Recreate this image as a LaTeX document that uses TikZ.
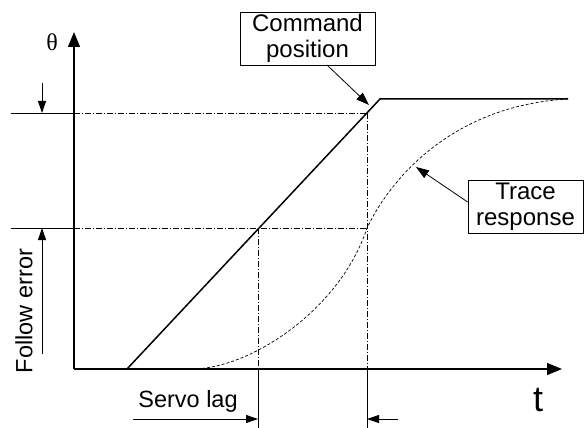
\documentclass[tikz,border=0pt]{standalone}
\usepackage{fontspec}
\setmainfont{Liberation Sans}
\newfontfamily\serifgreek{Liberation Serif}
\usetikzlibrary{arrows.meta}
\begin{document}
\begin{tikzpicture}[x=1pt,y=-1pt,
  axis/.style={line width=1.3pt,-{Triangle[length=15pt,width=12pt]}},
  ramp/.style={line width=1.5pt},
  guide/.style={line width=0.6pt,dash pattern=on 6pt off 2pt on 1pt off 2pt},
  trace/.style={line width=0.7pt,dash pattern=on 3pt off 2pt},
  thin/.style={line width=0.7pt},
  marker/.style={line width=0.9pt,-{Triangle[length=12pt,width=8pt]}},
  callout/.style={line width=0.8pt,-{Triangle[length=13pt,width=9pt]}},
  labelbox/.style={draw,line width=0.8pt,align=center,inner sep=0pt,
    font=\fontsize{24}{26}\selectfont},
  txt/.style={font=\fontsize{23.5}{26}\selectfont,inner sep=0pt}]
\useasboundingbox (0,0) rectangle (584,428);
% key points
\coordinate (O) at (74,369);
\coordinate (ytip) at (74,32);
\coordinate (xtip) at (562,369);
\coordinate (r0) at (127,369);
\coordinate (r1) at (380,99);
\coordinate (rend) at (568,99);
\coordinate (A) at (367,113);
\coordinate (B) at (258,228);
\coordinate (C) at (367,228);
\coordinate (Ab) at (367,369);
\coordinate (Bb) at (258,369);
\coordinate (Abot) at (367,428);
\coordinate (Bbot) at (258,428);
\coordinate (tickU) at (11,113);
\coordinate (tickL) at (11,228);
\coordinate (yU) at (74,113);
\coordinate (yL) at (74,228);
\coordinate (feTop) at (42,83);
\coordinate (feTopTip) at (42,113);
\coordinate (feBot) at (42,354);
\coordinate (feBotTip) at (42,228);
\coordinate (slL) at (133,419);
\coordinate (slLtip) at (258,419);
\coordinate (slR) at (398,419);
\coordinate (slRtip) at (367,419);
\coordinate (c0) at (192,369);
\coordinate (cend) at (568,99);
\coordinate (arrCmd) at (369,105);
\coordinate (arrTrace) at (416,167);
% axes
\draw[axis] (O) -- (ytip);
\draw[axis] (O) -- (xtip);
% guides
\draw[thin] (tickU) -- (yU);
\draw[thin] (tickL) -- (yL);
\draw[guide] (yU) -- (A);
\draw[guide] (yL) -- (C);
\draw[guide] (A) -- (Ab);
\draw[guide] (B) -- (Bb);
\draw[thin] (Ab) -- (Abot);
\draw[thin] (Bb) -- (Bbot);
% command ramp
\draw[ramp] (r0) -- (r1) -- (rend);
% trace response
\draw[trace] (c0) .. controls (250,369) and (340,310) .. (C)
  .. controls (395,170) and (460,105) .. (cend);
% follow error arrows
\draw[marker] (feTop) -- (feTopTip);
\draw[marker] (feBot) -- (feBotTip);
% servo lag arrows
\draw[marker] (slL) -- (slLtip);
\draw[marker] (slR) -- (slRtip);
% labels
\node[font=\serifgreek\fontsize{24}{24}\selectfont,inner sep=0pt] (theta) at (52,42) {θ};
\node[font=\rmfamily\fontsize{36}{36}\selectfont,inner sep=0pt,anchor=base] (tlab) at (538,411) {t};
\node[txt,rotate=90] (fe) at (24,311) {Follow error};
\node[txt] (sl) at (188,401) {Servo lag};
\node[labelbox,minimum width=135pt,minimum height=53pt] (cmd) at (307.5,38.5) {Command\\position};
\node[labelbox,minimum width=115pt,minimum height=53pt] (tr) at (525.5,206.5) {Trace\\response};
\draw[callout] (327,65) -- (arrCmd);
\draw[callout] (tr.west |- 0,202) -- (arrTrace);
\end{tikzpicture}
\end{document}
